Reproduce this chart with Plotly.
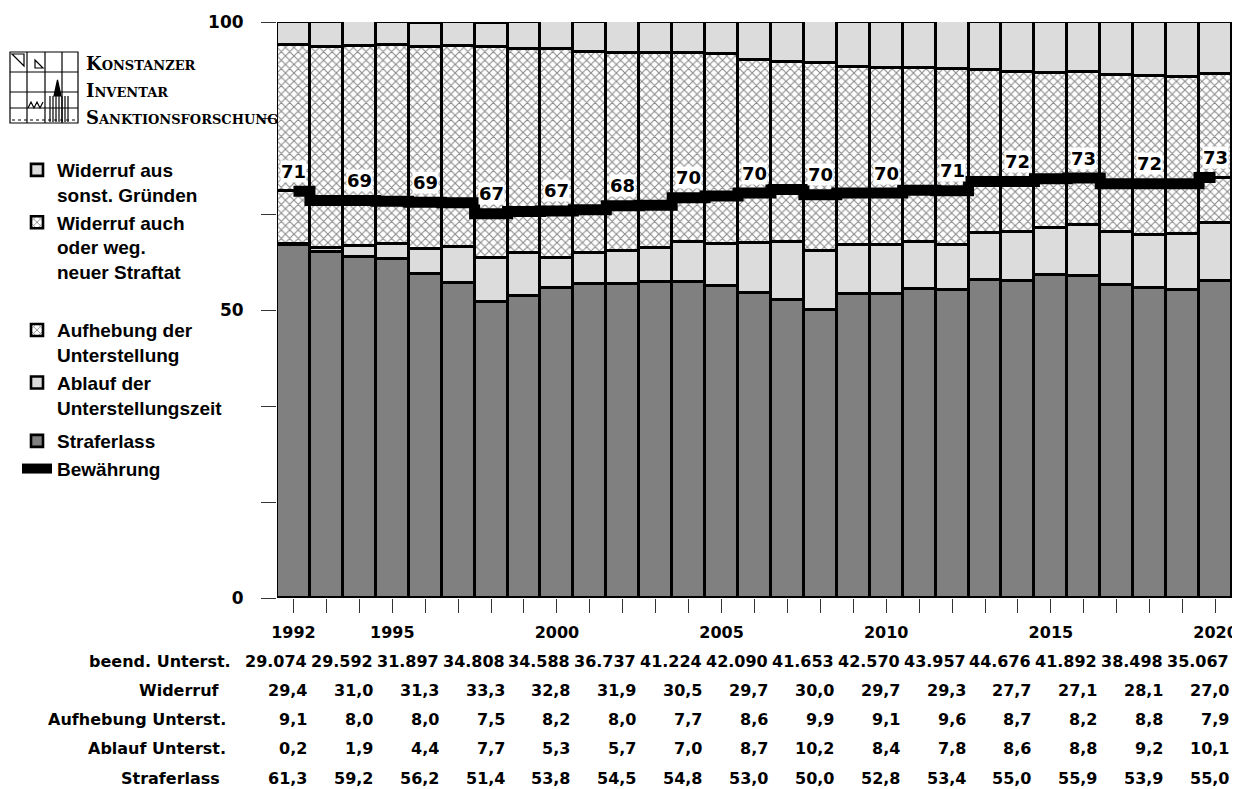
import plotly.graph_objects as go

# ---------------- data ----------------
years = list(range(1992, 2021))
straferlass = [61.3, 60.0, 59.2, 58.8, 56.2, 54.7, 51.4, 52.5, 53.8, 54.5, 54.5, 54.8, 54.8, 54.1, 53.0,
               51.8, 50.0, 52.8, 52.8, 53.7, 53.4, 55.2, 55.0, 56.1, 55.9, 54.4, 53.9, 53.4, 55.0]
ablauf = [0.2, 0.7, 1.9, 2.6, 4.4, 6.3, 7.7, 7.4, 5.3, 5.4, 5.7, 6.0, 7.0, 7.4, 8.7,
          10.0, 10.2, 8.5, 8.4, 8.1, 7.8, 8.1, 8.6, 8.1, 8.8, 9.1, 9.2, 9.8, 10.1]
aufhebung = [9.1, 8.3, 8.0, 7.5, 8.0, 7.6, 7.5, 7.2, 8.2, 7.5, 8.0, 7.4, 7.7, 8.3, 8.6,
             9.1, 9.9, 9.0, 9.1, 9.0, 9.6, 9.0, 8.7, 8.6, 8.2, 8.4, 8.8, 8.7, 7.9]
widerruf_neu = [25.4, 26.7, 26.8, 27.1, 27.1, 27.2, 29.0, 28.3, 28.1, 27.4, 26.5, 26.4, 25.1, 24.6, 23.1,
                22.1, 22.7, 21.9, 21.8, 21.2, 21.1, 19.4, 19.1, 18.4, 18.4, 18.9, 18.7, 18.6, 18.0]
widerruf_sonst = [4.0, 4.3, 4.2, 4.0, 4.2, 4.2, 4.3, 4.6, 4.7, 5.2, 5.4, 5.4, 5.4, 5.6, 6.6,
                  7.0, 7.3, 7.8, 7.9, 8.0, 8.2, 8.3, 8.6, 8.8, 8.7, 9.2, 9.4, 9.5, 9.0]
bewaehrung = [70.6, 69.0, 69.0, 68.9, 68.7, 68.6, 66.7, 67.1, 67.2, 67.4, 68.1, 68.2, 69.5, 69.8, 70.3,
              70.9, 70.0, 70.3, 70.3, 70.8, 70.7, 72.3, 72.3, 72.8, 72.9, 71.9, 71.9, 71.9, 73.0]
bew_label_years = list(range(1992, 2021, 2))
bew_labels = [71, 69, 69, 67, 67, 68, 70, 70, 70, 70, 71, 72, 73, 72, 73]

year_labels = [1992, 1995, 2000, 2005, 2010, 2015, 2020]

table_years = list(range(1992, 2021, 2))
beend_unterst = [29074, 29592, 31897, 34808, 34588, 36737, 41224, 42090, 41653, 42570, 43957, 44676, 41892, 38498, 35067]
widerruf_tab = [29.4, 31.0, 31.3, 33.3, 32.8, 31.9, 30.5, 29.7, 30.0, 29.7, 29.3, 27.7, 27.1, 28.1, 27.0]
aufhebung_tab = [9.1, 8.0, 8.0, 7.5, 8.2, 8.0, 7.7, 8.6, 9.9, 9.1, 9.6, 8.7, 8.2, 8.8, 7.9]
ablauf_tab = [0.2, 1.9, 4.4, 7.7, 5.3, 5.7, 7.0, 8.7, 10.2, 8.4, 7.8, 8.6, 8.8, 9.2, 10.1]
straferlass_tab = [61.3, 59.2, 56.2, 51.4, 53.8, 54.5, 54.8, 53.0, 50.0, 52.8, 53.4, 55.0, 55.9, 53.9, 55.0]

# ---------------- layout constants ----------------
OFF = 8                      # page body margin
W, H = 1240 - OFF, 789 - OFF
PL, PR, PT, PB = 277, 1232, 22, 598   # plot area in page pixels
L, T = PL - OFF, PT - OFF
R = W - (PR - OFF)
B = H - (PB - OFF)
PW, PH = PR - PL, PB - PT
BOLD = "DejaVu Sans"
DARK = "#808080"
LIGHT = "#dcdcdc"


def px(X):
    return (X - PL) / PW


def py(Y):
    return (PB - Y) / PH


fig = go.Figure()
edge = dict(color="black", width=2.6)
hatch = dict(shape="x", fgcolor="#111111", bgcolor="white", size=6, solidity=0.32, fillmode="overlay")

fig.add_bar(x=years, y=straferlass, name="Straferlass", marker=dict(color=DARK, line=edge),
            legendrank=5, legendgroup="c")
fig.add_bar(x=years, y=ablauf, name="Ablauf der<br>Unterstellungszeit", marker=dict(color=LIGHT, line=edge),
            legendrank=4, legendgroup="b")
fig.add_bar(x=years, y=aufhebung, name="Aufhebung der<br>Unterstellung",
            marker=dict(color="white", line=edge, pattern=hatch), legendrank=3, legendgroup="b")
fig.add_bar(x=years, y=widerruf_neu, name="Widerruf auch<br>oder weg.<br>neuer Straftat<br> ",
            marker=dict(color="white", line=edge, pattern=hatch), legendrank=2, legendgroup="a")
fig.add_bar(x=years, y=widerruf_sonst, name="Widerruf aus<br>sonst. Gründen", marker=dict(color=LIGHT, line=edge),
            legendrank=1, legendgroup="a")
fig.add_scatter(x=years, y=bewaehrung, mode="lines", name="Bewährung",
                line=dict(color="black", width=11, shape="hvh"), legendrank=6, legendgroup="c")

ann = []
# Bewährung labels
for yr, lab in zip(bew_label_years, bew_labels):
    yv = bewaehrung[years.index(yr)]
    ann.append(dict(x=yr, y=yv, xref="x", yref="y", text=str(lab), showarrow=False, yshift=20,
                    bgcolor="white", borderpad=0,
                    font=dict(family=BOLD, size=18, color="black", weight="bold")))

# table rows
rows = [
    ("beend. Unterst.", [f"{v:,}".replace(",", ".") for v in beend_unterst], 661, 233),
    ("Widerruf", [f"{v:.1f}".replace(".", ",") for v in widerruf_tab], 690, 222),
    ("Aufhebung Unterst.", [f"{v:.1f}".replace(".", ",") for v in aufhebung_tab], 719, 228),
    ("Ablauf Unterst.", [f"{v:.1f}".replace(".", ",") for v in ablauf_tab], 748, 228),
    ("Straferlass", [f"{v:.1f}".replace(".", ",") for v in straferlass_tab], 778, 222),
]
tfont = dict(family=BOLD, size=16, color="black", weight="bold")
for label, vals, Y, rx in rows:
    ann.append(dict(x=px(rx), y=py(Y), xref="paper", yref="paper", text=label, showarrow=False,
                    xanchor="right", yanchor="middle", font=tfont))
    for yr, v in zip(table_years, vals):
        ann.append(dict(x=yr + 0.5, y=py(Y), xref="x", yref="paper", text=v, showarrow=False,
                        xanchor="right", yanchor="middle", xshift=-1, font=tfont))

# logo text
lf_small, lf_big = 13, 18
for Y, first, rest in [(63, "K", "ONSTANZER"), (91, "I", "NVENTAR"), (117, "S", "ANKTIONSFORSCHUNG")]:
    ann.append(dict(x=px(84), y=py(Y), xref="paper", yref="paper", showarrow=False,
                    xanchor="left", yanchor="middle",
                    text=f"<span style='font-size:{lf_big}px'>{first}</span>{rest}",
                    font=dict(family="DejaVu Serif", size=lf_small, color="black")))

# logo graphic (simple line drawing)
shapes = []
line_k = dict(color="black", width=1.2)


def seg(x0, y0, x1, y1, **kw):
    return dict(type="line", xref="paper", yref="paper", x0=px(x0), x1=px(x1), y0=py(y0), y1=py(y1),
                line=kw.get("line", line_k))


shapes.append(dict(type="rect", xref="paper", yref="paper", x0=px(10), x1=px(78), y0=py(123), y1=py(52), line=line_k))
for X in [27, 45, 62]:
    shapes.append(seg(X, 123, X, 52))
for Y in [72, 92, 108]:
    shapes.append(seg(10, Y, 78, Y))
for X in [50, 53, 56, 59, 62, 65, 68]:
    shapes.append(seg(X, 122, X, 96))
shapes.append(dict(type="path", xref="paper", yref="paper",
                   path=f"M {px(54)} {py(96)} L {px(57.5)} {py(80)} L {px(61)} {py(96)} Z",
                   fillcolor="black", line=line_k))
shapes.append(dict(type="path", xref="paper", yref="paper",
                   path=f"M {px(28)} {py(108)} L {px(31)} {py(102)} L {px(34)} {py(108)} L {px(37)} {py(102)} L {px(40)} {py(108)} L {px(43)} {py(102)}",
                   line=line_k))
shapes.append(dict(type="path", xref="paper", yref="paper",
                   path=f"M {px(12)} {py(54)} L {px(24)} {py(54)} L {px(24)} {py(66)} Z", line=line_k))
shapes.append(dict(type="path", xref="paper", yref="paper",
                   path=f"M {px(35)} {py(60)} L {px(43)} {py(68)} L {px(35)} {py(68)} Z", line=line_k))
shapes.append(seg(12, 120, 76, 120, line=dict(color="black", width=1, dash="dot")))

fig.update_layout(
    width=W, height=H,
    margin=dict(l=L, r=R, t=T, b=B, autoexpand=False),
    paper_bgcolor="white", plot_bgcolor="white",
    barmode="stack", bargap=0,
    font=dict(family=BOLD, size=16, color="black", weight="bold"),
    showlegend=True,
    legend=dict(x=px(17), y=py(151), xanchor="left", yanchor="top", traceorder="grouped",
                tracegroupgap=6, valign="top", bgcolor="rgba(0,0,0,0)",
                font=dict(family="Liberation Sans", size=19, color="black", weight="bold")),
    xaxis=dict(range=[1991.5, 2020.5], tickvals=years,
               ticktext=[str(y) if y in year_labels else "" for y in years],
               ticks="outside", ticklen=14, tickwidth=1, tickcolor="#333333",
               showgrid=False, zeroline=False, showline=False,
               tickfont=dict(family=BOLD, size=16, color="black", weight="bold"),
               ticklabelstandoff=6, fixedrange=True),
    yaxis=dict(range=[0, 100], tickvals=[0, 100 / 6, 200 / 6, 50, 400 / 6, 500 / 6, 100],
               ticktext=["0", "", "", "50", "", "", "100"],
               ticks="outside", ticklen=15, tickwidth=1, tickcolor="#333333",
               showgrid=False, zeroline=False, showline=False,
               tickfont=dict(family=BOLD, size=17, color="black", weight="bold"),
               ticklabelstandoff=14, fixedrange=True),
    yaxis2=dict(range=[0, 100], overlaying="y", side="right", tickvals=[20, 40, 50, 60, 80],
                showticklabels=False, ticks="outside", ticklen=8, tickcolor="#555555",
                showgrid=False, zeroline=False, showline=False),
    annotations=ann,
    shapes=shapes,
)
# helper trace (no data) so that the right-hand tick axis is drawn
fig.add_scatter(x=[None], y=[None], yaxis="y2", showlegend=False, hoverinfo="skip")

fig.write_html("out.html")
